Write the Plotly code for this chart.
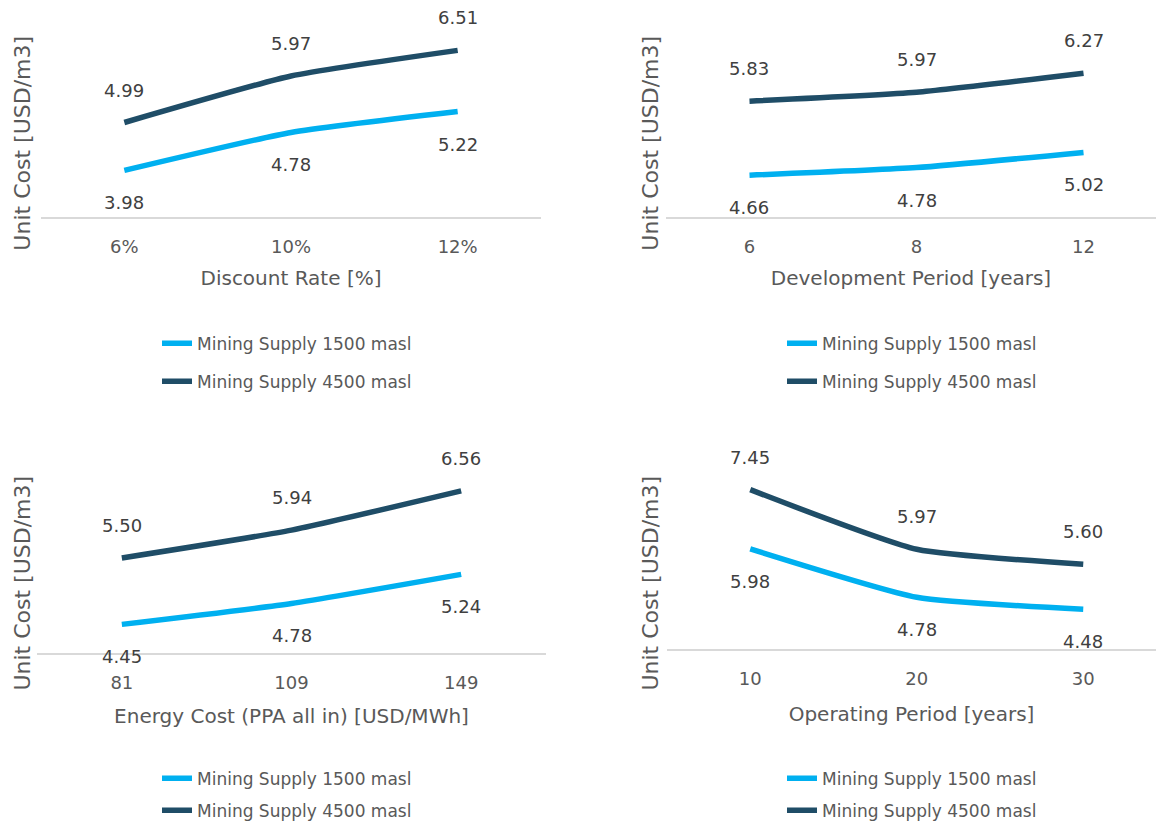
import plotly.graph_objects as go

# ---- data -------------------------------------------------------------
discount_rate = ["6%", "10%", "12%"]
discount_1500 = [3.98, 4.78, 5.22]
discount_4500 = [4.99, 5.97, 6.51]

development_period = ["6", "8", "12"]
development_1500 = [4.66, 4.78, 5.02]
development_4500 = [5.83, 5.97, 6.27]

energy_cost = ["81", "109", "149"]
energy_1500 = [4.45, 4.78, 5.24]
energy_4500 = [5.50, 5.94, 6.56]

operating_period = ["10", "20", "30"]
operating_1500 = [5.98, 4.78, 4.48]
operating_4500 = [7.45, 5.97, 5.60]

series_names = ["Mining Supply 1500 masl", "Mining Supply 4500 masl"]
x_titles = [
    "Discount Rate [%]",
    "Development Period [years]",
    "Energy Cost (PPA all in) [USD/MWh]",
    "Operating Period [years]",
]
y_title = "Unit Cost [USD/m3]"

# ---- styling ------------------------------------------------------------
FONT = "DejaVu Sans"
LIGHT = "#00B0F0"
DARK = "#1F4D67"
AXIS_TEXT = "#595959"
LABEL_TEXT = "#404040"
W, H = 1156, 829
GRID_H = 817.4          # vertical layout grid (px) spread over the canvas height
PLOT_H = 189            # height of each plot area on that grid


def gy(px):
    """Paper y-fraction for a position measured from the top of the grid."""
    return 1 - px / GRID_H


panels = [
    dict(cats=discount_rate, low=discount_1500, high=discount_4500,
         xdom=[41, 541], ybase=216, yrange=[3, 7], xright=2.5,
         ytitle=(23, 143), legend=(157, 324.2), gap=13, standoff=15),
    dict(cats=development_period, low=development_1500, high=development_4500,
         xdom=[666, 1156], ybase=216, yrange=[4, 7], xright=2.434,
         ytitle=(651, 143), legend=(782, 324.2), gap=13, standoff=15),
    dict(cats=energy_cost, low=energy_1500, high=energy_4500,
         xdom=[37, 546], ybase=650, yrange=[4, 7], xright=2.5,
         ytitle=(23, 581), legend=(157, 757.3), gap=7, standoff=17),
    dict(cats=operating_period, low=operating_1500, high=operating_4500,
         xdom=[667, 1156], ybase=646, yrange=[3.5, 8.21], xright=2.437,
         ytitle=(651, 581), legend=(782, 757.3), gap=7, standoff=19),
]

LABEL_SHIFT = 32 * H / GRID_H

fig = go.Figure()
annotations = []
layout = {}

for i, p in enumerate(panels):
    n = "" if i == 0 else str(i + 1)
    xa, ya = "x" + n, "y" + n
    leg = "legend" + n
    for name, vals, color, sign in (
        (series_names[0], p["low"], LIGHT, -1),
        (series_names[1], p["high"], DARK, 1),
    ):
        fig.add_trace(go.Scatter(
            x=p["cats"], y=vals, name=name, mode="lines",
            line=dict(color=color, width=5.5, shape="spline", smoothing=0.5),
            xaxis=xa, yaxis=ya, legend=leg, legendgroup=name + n,
            hoverinfo="skip",
        ))
        # value labels: above the upper series, below the lower one
        for j, v in enumerate(vals):
            annotations.append(dict(
                x=j, y=v, xref=xa, yref=ya, text=f"{v:.2f}",
                showarrow=False, yshift=LABEL_SHIFT * sign,
                xanchor="center", yanchor="middle",
                font=dict(family=FONT, size=18, color=LABEL_TEXT),
            ))

    x0, x1 = p["xdom"]
    yb = p["ybase"]
    layout["xaxis" + n] = dict(
        domain=[x0 / W, x1 / W], anchor=ya, type="category",
        range=[-0.5, p["xright"]], automargin=False,
        showgrid=False, zeroline=False,
        showline=True, linecolor="#D9D9D9", linewidth=1.5,
        ticks="", ticklabelstandoff=13,
        tickfont=dict(family=FONT, size=18, color=AXIS_TEXT),
        title=dict(text=x_titles[i], standoff=p["standoff"],
                   font=dict(family=FONT, size=20, color=AXIS_TEXT)),
    )
    layout["yaxis" + n] = dict(
        domain=[gy(yb), gy(yb - PLOT_H)], anchor=xa,
        range=p["yrange"], automargin=False,
        showgrid=False, zeroline=False,
        showline=False, showticklabels=False, ticks="",
    )
    tx, ty = p["ytitle"]
    annotations.append(dict(
        x=tx / W, y=gy(ty), xref="paper", yref="paper",
        xanchor="center", yanchor="middle",
        text=y_title, textangle=-90, showarrow=False,
        font=dict(family=FONT, size=22, color=AXIS_TEXT),
    ))
    lx, ly = p["legend"]
    layout[leg] = dict(
        x=lx / W, y=gy(ly), xanchor="left", yanchor="top",
        traceorder="grouped", tracegroupgap=p["gap"],
        bgcolor="rgba(0,0,0,0)",
        font=dict(family=FONT, size=17, color=AXIS_TEXT),
    )

fig.update_layout(
    width=W, height=H,
    margin=dict(l=0, r=0, t=0, b=0),
    paper_bgcolor="white", plot_bgcolor="white",
    annotations=annotations,
    showlegend=True,
    **layout,
)

fig.write_html("out.html")
